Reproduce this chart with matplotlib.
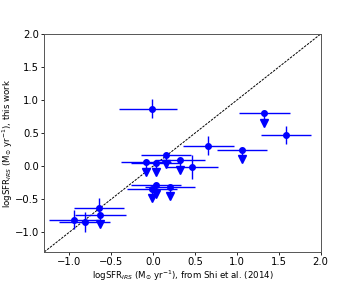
import numpy as np
import matplotlib.pyplot as plt

# detections (with y errors)
xd = np.array([-0.01, 1.59, 0.66, 0.46, -0.65, -0.94, -0.82])
yd = np.array([0.87, 0.47, 0.31, -0.015, -0.63, -0.81, -0.85])
xd_lo = np.array([0.40, 0.30, 0.30, 0.31, 0.30, 0.30, 0.30])
xd_hi = np.array([0.30, 0.30, 0.30, 0.31, 0.30, 0.30, 0.30])
yd_err = np.array([0.14, 0.14, 0.14, 0.18, 0.15, 0.15, 0.15])

# upper limits
xu = np.array([0.15, 0.32, -0.09, 0.03, 0.03, -0.01, 0.20, 1.06, 1.33, -0.63])
yu = np.array([0.17, 0.085, 0.055, 0.045, -0.28, -0.34, -0.32, 0.24, 0.80, -0.735])
xu_err = np.array([0.30, 0.30, 0.30, 0.30, 0.30, 0.30, 0.30, 0.30, 0.30, 0.30])
arrow = 0.14

fig = plt.figure(figsize=(3.56, 2.84), dpi=100)
ax = fig.add_axes((0.1245, 0.113, 0.776, 0.767))

ax.plot([-1.3, 2.0], [-1.3, 2.0], 'k--', lw=0.7, dashes=(2.5, 1.2))

ax.errorbar(xd, yd, yerr=yd_err, xerr=[xd_lo, xd_hi], fmt='o', color='blue',
            ms=4, elinewidth=1.0, capsize=0)
ax.errorbar(xu, yu, yerr=[np.full(len(yu), arrow), np.zeros(len(yu))], xerr=xu_err,
            fmt='o', color='blue', ms=4, elinewidth=1.0, capsize=0)
ax.plot(xu, yu - arrow, 'v', color='blue', ms=6, ls='none')

ax.set_xlim(-1.3, 2.0)
ax.set_ylim(-1.3, 2.0)
ax.set_xticks([-1.0, -0.5, 0.0, 0.5, 1.0, 1.5, 2.0])
ax.set_yticks([-1.0, -0.5, 0.0, 0.5, 1.0, 1.5, 2.0])
ax.tick_params(labelsize=7.2, length=2.5, width=0.6, pad=1.5)
for s in ax.spines.values():
    s.set_linewidth(0.7)
    s.set_color('#555555')

ax.set_xlabel(r'logSFR$_{IRS}$ (M$_{\odot}$ yr$^{-1}$), from Shi et al. (2014)', fontsize=6.2, labelpad=1)
ax.set_ylabel(r'logSFR$_{IRS}$ (M$_{\odot}$ yr$^{-1}$), this work', fontsize=6.2)
ax.yaxis.set_label_coords(-0.106, 0.5)

fig.savefig('out.png', dpi=100)
